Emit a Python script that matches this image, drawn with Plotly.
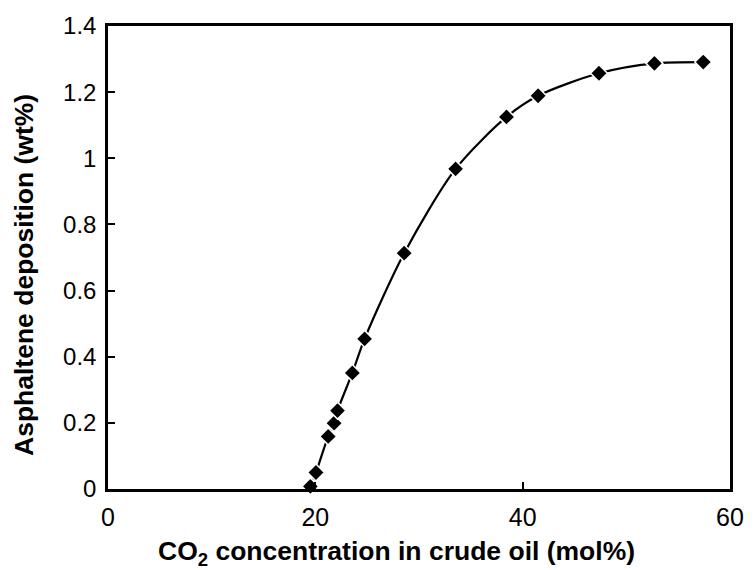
import plotly.graph_objects as go

co2_mol = [19.52, 20.06, 21.24, 21.81, 22.14, 23.57, 24.75, 28.57, 33.53, 38.44, 41.49, 47.36, 52.71, 57.42]
deposition = [0.008, 0.050, 0.159, 0.199, 0.237, 0.351, 0.454, 0.713, 0.968, 1.125, 1.189, 1.257, 1.287, 1.291]

x_ticks = [0, 20, 40, 60]
y_ticks = [0, 0.2, 0.4, 0.6, 0.8, 1, 1.2, 1.4]
y_tick_text = ["0", "0.2", "0.4", "0.6", "0.8", "1", "1.2", "1.4"]

x_title = "<b>CO<sub>2</sub> concentration in crude oil (mol%)</b>"
y_title = "<b>Asphaltene deposition (wt%)</b>"

L, R, T, B = 108, 18, 26, 81
W, H = 756, 570
pw, ph = W - L - R, H - T - B

fig = go.Figure()
fig.add_trace(go.Scatter(
    x=co2_mol, y=deposition, mode="lines+markers",
    line=dict(color="black", width=2.2, shape="spline", smoothing=0.8),
    marker=dict(symbol="diamond", size=13, color="black", line=dict(color="white", width=1.5)),
    cliponaxis=False, showlegend=False,
))

font = "Liberation Sans, Arial, sans-serif"
fig.update_layout(
    width=W, height=H,
    margin=dict(l=L, r=R, t=T, b=B),
    paper_bgcolor="white", plot_bgcolor="white",
    font=dict(family=font, color="black", size=24),
    xaxis=dict(
        range=[0, 60], tickvals=x_ticks, ticks="inside", ticklen=7, tickwidth=1.5,
        tickcolor="black", showline=True, linecolor="black", linewidth=2.5, mirror=True,
        showgrid=False, zeroline=False, tickfont=dict(size=25), ticklabelstandoff=4,
    ),
    yaxis=dict(
        range=[0, 1.4], tickvals=y_ticks, ticktext=y_tick_text, ticks="inside", ticklen=7, tickwidth=1.5,
        tickcolor="black", showline=True, linecolor="black", linewidth=2.5, mirror=True,
        showgrid=False, zeroline=False, tickfont=dict(size=24), ticklabelstandoff=4,
    ),
    annotations=[
        dict(text=x_title, xref="paper", yref="paper",
             x=(400 - L) / pw, y=0, yshift=-(553 - (T + ph)),
             xanchor="center", yanchor="middle", showarrow=False,
             font=dict(size=26.5, family=font, color="black")),
        dict(text=y_title, xref="paper", yref="paper",
             x=0, xshift=-(L - 24), y=1 - (275 - T) / ph,
             xanchor="center", yanchor="middle", textangle=-90, showarrow=False,
             font=dict(size=26.5, family=font, color="black")),
    ],
)
fig.write_html("out.html")
